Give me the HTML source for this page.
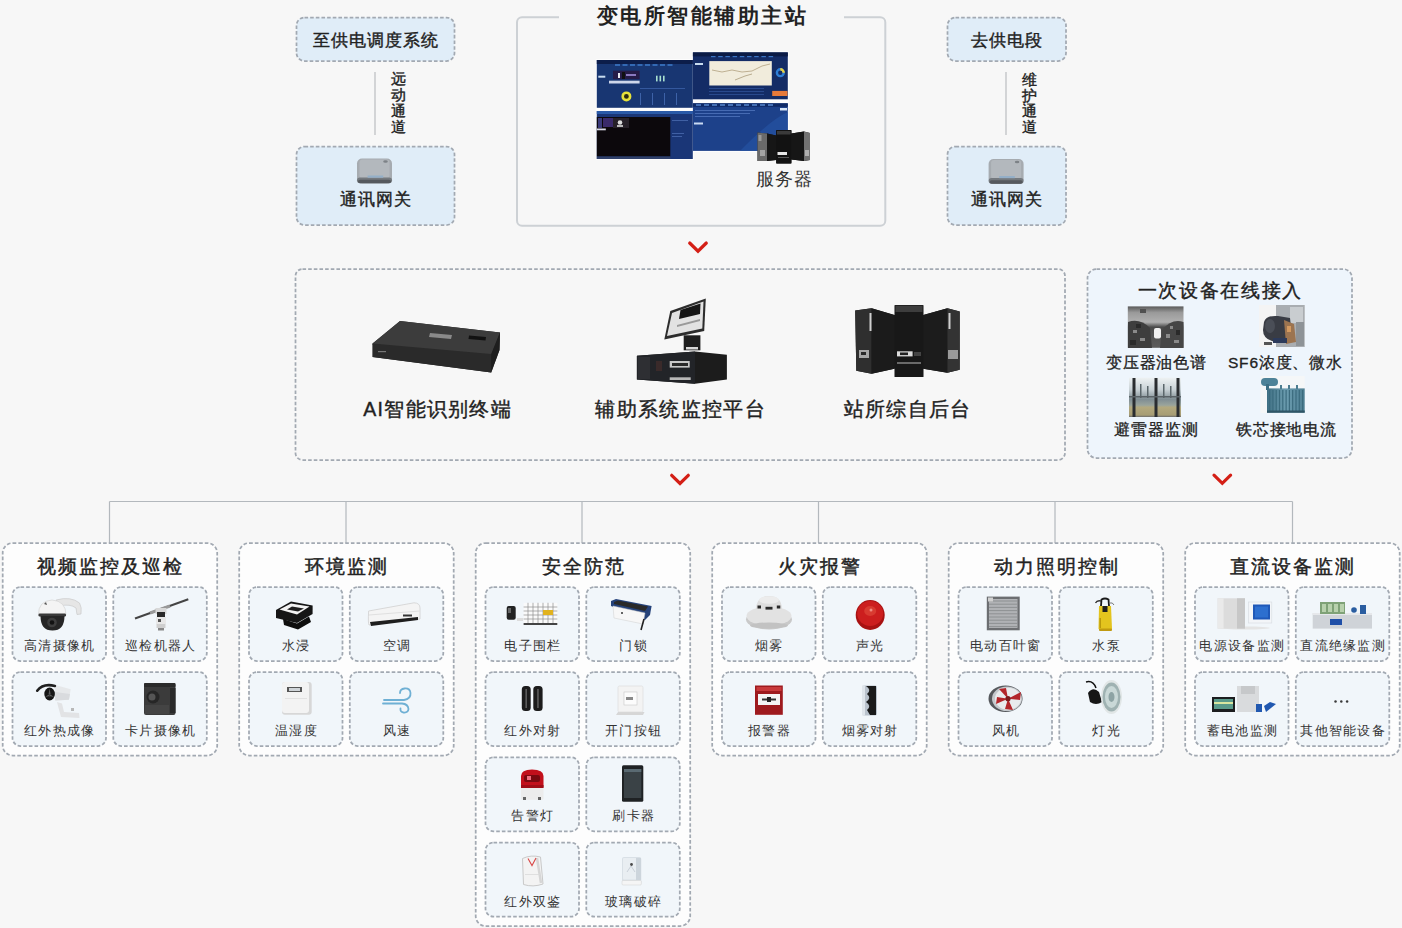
<!DOCTYPE html>
<html><head><meta charset="utf-8"><style>
*{margin:0;padding:0;box-sizing:border-box}
html,body{width:1402px;height:928px;overflow:hidden;background:#f7f7f7}
body{position:relative;font-family:"Liberation Sans",sans-serif;color:#222}
svg.bg{position:absolute;left:0;top:0}
div{position:absolute}
.tb{font-size:17px;font-weight:400;-webkit-text-stroke:0.4px #222;text-align:center;line-height:22px;letter-spacing:1px;padding-left:1px}
.mt{font-size:19.5px;font-weight:400;-webkit-text-stroke:0.4px #222;text-align:center;line-height:26px;letter-spacing:1.3px;padding-left:1.3px}
.st{font-size:15.5px;font-weight:400;-webkit-text-stroke:0.3px #222;text-align:center;line-height:20px;letter-spacing:0.8px;padding-left:0.8px}
.rt{font-size:19px;font-weight:400;-webkit-text-stroke:0.4px #222;text-align:center;line-height:26px;letter-spacing:1.7px;padding-left:1.7px}
.pt{font-size:18.5px;font-weight:400;-webkit-text-stroke:0.45px #222;text-align:center;line-height:26px;letter-spacing:2px;padding-left:2px}
.cl{font-size:13px;font-weight:400;text-align:center;line-height:18px;color:#333;letter-spacing:1.3px;padding-left:1.3px}
.title{font-size:21px;font-weight:700;text-align:center;line-height:28px;letter-spacing:2.5px;padding-left:2.5px}
.vt{font-size:14.8px;font-weight:400;-webkit-text-stroke:0.4px #222;line-height:15.85px}
.srv{font-size:17.5px;font-weight:400;line-height:22px;color:#333;letter-spacing:1px}
</style></head><body>
<svg class="bg" width="1402" height="928" viewBox="0 0 1402 928">
<rect x="296.5" y="17.5" width="158" height="43.5" rx="8" fill="#e0edf8" stroke="#a2a9b2" stroke-width="1.75" stroke-dasharray="3.6 2.05"/>
<line x1="375" y1="72" x2="375" y2="135" stroke="#c9cbcd" stroke-width="1.6"/>
<rect x="296.5" y="146.5" width="158" height="78.5" rx="8" fill="#e0edf8" stroke="#a2a9b2" stroke-width="1.75" stroke-dasharray="3.6 2.05"/>
<rect x="517" y="17.2" width="368.3" height="208.5" rx="5" fill="none" stroke="#cdd1d5" stroke-width="2"/>
<rect x="559" y="10" width="285" height="15" fill="#f7f7f7"/>
<rect x="947.5" y="17.5" width="118.5" height="43.5" rx="8" fill="#e0edf8" stroke="#a2a9b2" stroke-width="1.75" stroke-dasharray="3.6 2.05"/>
<line x1="1006" y1="72" x2="1006" y2="135" stroke="#c9cbcd" stroke-width="1.6"/>
<rect x="947.5" y="146.5" width="118.5" height="78.5" rx="8" fill="#e0edf8" stroke="#a2a9b2" stroke-width="1.75" stroke-dasharray="3.6 2.05"/>
<polyline points="689.7,243.0 698,251.2 706.3,243.0" fill="none" stroke="#d41f16" stroke-width="3.2" stroke-linecap="round" stroke-linejoin="miter"/>
<polyline points="671.7,475.3 680,483.5 688.3,475.3" fill="none" stroke="#d41f16" stroke-width="3.2" stroke-linecap="round" stroke-linejoin="miter"/>
<polyline points="1214.0,475.1 1222.3,483.3 1230.6,475.1" fill="none" stroke="#d41f16" stroke-width="3.2" stroke-linecap="round" stroke-linejoin="miter"/>
<rect x="295.5" y="269" width="769.5" height="191" rx="7" fill="none" stroke="#a2a9b2" stroke-width="1.75" stroke-dasharray="3.6 2.05"/>
<rect x="1087.5" y="269" width="264.5" height="189" rx="9" fill="#eef5fc" stroke="#a2a9b2" stroke-width="1.75" stroke-dasharray="3.6 2.05"/>
<line x1="109.5" y1="501.5" x2="1292.5" y2="501.5" stroke="#b3b8bd" stroke-width="1.2"/>
<line x1="109.5" y1="501.5" x2="109.5" y2="543" stroke="#b3b8bd" stroke-width="1.2"/>
<line x1="346" y1="501.5" x2="346" y2="543" stroke="#b3b8bd" stroke-width="1.2"/>
<line x1="582" y1="501.5" x2="582" y2="543" stroke="#b3b8bd" stroke-width="1.2"/>
<line x1="818.5" y1="501.5" x2="818.5" y2="543" stroke="#b3b8bd" stroke-width="1.2"/>
<line x1="1055" y1="501.5" x2="1055" y2="543" stroke="#b3b8bd" stroke-width="1.2"/>
<line x1="1292.5" y1="501.5" x2="1292.5" y2="543" stroke="#b3b8bd" stroke-width="1.2"/>
<rect x="2.7" y="543" width="214.5" height="212.5" rx="10" fill="#fdfdfd" stroke="#a2a9b2" stroke-width="1.75" stroke-dasharray="3.6 2.05"/>
<rect x="12.5" y="587" width="93.5" height="74" rx="8" fill="#f1f6fa" stroke="#a2a9b2" stroke-width="1.75" stroke-dasharray="3.6 2.05"/>
<rect x="113.3" y="587" width="93.5" height="74" rx="8" fill="#f1f6fa" stroke="#a2a9b2" stroke-width="1.75" stroke-dasharray="3.6 2.05"/>
<rect x="12.5" y="672" width="93.5" height="74" rx="8" fill="#f1f6fa" stroke="#a2a9b2" stroke-width="1.75" stroke-dasharray="3.6 2.05"/>
<rect x="113.3" y="672" width="93.5" height="74" rx="8" fill="#f1f6fa" stroke="#a2a9b2" stroke-width="1.75" stroke-dasharray="3.6 2.05"/>
<rect x="239.2" y="543" width="214.5" height="212.5" rx="10" fill="#fdfdfd" stroke="#a2a9b2" stroke-width="1.75" stroke-dasharray="3.6 2.05"/>
<rect x="249.0" y="587" width="93.5" height="74" rx="8" fill="#f1f6fa" stroke="#a2a9b2" stroke-width="1.75" stroke-dasharray="3.6 2.05"/>
<rect x="349.8" y="587" width="93.5" height="74" rx="8" fill="#f1f6fa" stroke="#a2a9b2" stroke-width="1.75" stroke-dasharray="3.6 2.05"/>
<rect x="249.0" y="672" width="93.5" height="74" rx="8" fill="#f1f6fa" stroke="#a2a9b2" stroke-width="1.75" stroke-dasharray="3.6 2.05"/>
<rect x="349.8" y="672" width="93.5" height="74" rx="8" fill="#f1f6fa" stroke="#a2a9b2" stroke-width="1.75" stroke-dasharray="3.6 2.05"/>
<rect x="475.7" y="543" width="214.5" height="383" rx="10" fill="#fdfdfd" stroke="#a2a9b2" stroke-width="1.75" stroke-dasharray="3.6 2.05"/>
<rect x="485.5" y="587" width="93.5" height="74" rx="8" fill="#f1f6fa" stroke="#a2a9b2" stroke-width="1.75" stroke-dasharray="3.6 2.05"/>
<rect x="586.3" y="587" width="93.5" height="74" rx="8" fill="#f1f6fa" stroke="#a2a9b2" stroke-width="1.75" stroke-dasharray="3.6 2.05"/>
<rect x="485.5" y="672" width="93.5" height="74" rx="8" fill="#f1f6fa" stroke="#a2a9b2" stroke-width="1.75" stroke-dasharray="3.6 2.05"/>
<rect x="586.3" y="672" width="93.5" height="74" rx="8" fill="#f1f6fa" stroke="#a2a9b2" stroke-width="1.75" stroke-dasharray="3.6 2.05"/>
<rect x="485.5" y="757.3" width="93.5" height="74" rx="8" fill="#f1f6fa" stroke="#a2a9b2" stroke-width="1.75" stroke-dasharray="3.6 2.05"/>
<rect x="586.3" y="757.3" width="93.5" height="74" rx="8" fill="#f1f6fa" stroke="#a2a9b2" stroke-width="1.75" stroke-dasharray="3.6 2.05"/>
<rect x="485.5" y="842.6" width="93.5" height="74" rx="8" fill="#f1f6fa" stroke="#a2a9b2" stroke-width="1.75" stroke-dasharray="3.6 2.05"/>
<rect x="586.3" y="842.6" width="93.5" height="74" rx="8" fill="#f1f6fa" stroke="#a2a9b2" stroke-width="1.75" stroke-dasharray="3.6 2.05"/>
<rect x="712.2" y="543" width="214.5" height="212.5" rx="10" fill="#fdfdfd" stroke="#a2a9b2" stroke-width="1.75" stroke-dasharray="3.6 2.05"/>
<rect x="722.0" y="587" width="93.5" height="74" rx="8" fill="#f1f6fa" stroke="#a2a9b2" stroke-width="1.75" stroke-dasharray="3.6 2.05"/>
<rect x="822.8" y="587" width="93.5" height="74" rx="8" fill="#f1f6fa" stroke="#a2a9b2" stroke-width="1.75" stroke-dasharray="3.6 2.05"/>
<rect x="722.0" y="672" width="93.5" height="74" rx="8" fill="#f1f6fa" stroke="#a2a9b2" stroke-width="1.75" stroke-dasharray="3.6 2.05"/>
<rect x="822.8" y="672" width="93.5" height="74" rx="8" fill="#f1f6fa" stroke="#a2a9b2" stroke-width="1.75" stroke-dasharray="3.6 2.05"/>
<rect x="948.7" y="543" width="214.5" height="212.5" rx="10" fill="#fdfdfd" stroke="#a2a9b2" stroke-width="1.75" stroke-dasharray="3.6 2.05"/>
<rect x="958.5" y="587" width="93.5" height="74" rx="8" fill="#f1f6fa" stroke="#a2a9b2" stroke-width="1.75" stroke-dasharray="3.6 2.05"/>
<rect x="1059.3" y="587" width="93.5" height="74" rx="8" fill="#f1f6fa" stroke="#a2a9b2" stroke-width="1.75" stroke-dasharray="3.6 2.05"/>
<rect x="958.5" y="672" width="93.5" height="74" rx="8" fill="#f1f6fa" stroke="#a2a9b2" stroke-width="1.75" stroke-dasharray="3.6 2.05"/>
<rect x="1059.3" y="672" width="93.5" height="74" rx="8" fill="#f1f6fa" stroke="#a2a9b2" stroke-width="1.75" stroke-dasharray="3.6 2.05"/>
<rect x="1185.2" y="543" width="214.5" height="212.5" rx="10" fill="#fdfdfd" stroke="#a2a9b2" stroke-width="1.75" stroke-dasharray="3.6 2.05"/>
<rect x="1195.0" y="587" width="93.5" height="74" rx="8" fill="#f1f6fa" stroke="#a2a9b2" stroke-width="1.75" stroke-dasharray="3.6 2.05"/>
<rect x="1295.8" y="587" width="93.5" height="74" rx="8" fill="#f1f6fa" stroke="#a2a9b2" stroke-width="1.75" stroke-dasharray="3.6 2.05"/>
<rect x="1195.0" y="672" width="93.5" height="74" rx="8" fill="#f1f6fa" stroke="#a2a9b2" stroke-width="1.75" stroke-dasharray="3.6 2.05"/>
<rect x="1295.8" y="672" width="93.5" height="74" rx="8" fill="#f1f6fa" stroke="#a2a9b2" stroke-width="1.75" stroke-dasharray="3.6 2.05"/>
<defs><linearGradient id="gwg" x1="0" y1="0" x2="0" y2="1"><stop offset="0" stop-color="#d6d9dc"/><stop offset="0.6" stop-color="#a4a9ae"/><stop offset="1" stop-color="#7b8085"/></linearGradient></defs>
<g transform="translate(357,158.5)">
<rect x="0" y="0" width="35" height="24.7" rx="5" fill="#a6abb0"/>
<rect x="2.5" y="1" width="30" height="19" rx="3" fill="#b3b8bd"/>
<rect x="0" y="19" width="35" height="5.7" rx="3" fill="#74797e"/>
<rect x="1" y="21.3" width="33" height="3.4" rx="2" fill="#55595e"/>
<rect x="10.6" y="17" width="15.6" height="2.2" fill="#94afc8"/>
<ellipse cx="28.5" cy="3" rx="2.3" ry="1.2" fill="#7d8287"/>
</g>
<g transform="translate(988.6,159)">
<rect x="0" y="0" width="35" height="24.7" rx="5" fill="#a6abb0"/>
<rect x="2.5" y="1" width="30" height="19" rx="3" fill="#b3b8bd"/>
<rect x="0" y="19" width="35" height="5.7" rx="3" fill="#74797e"/>
<rect x="1" y="21.3" width="33" height="3.4" rx="2" fill="#55595e"/>
<rect x="10.6" y="17" width="15.6" height="2.2" fill="#94afc8"/>
<ellipse cx="28.5" cy="3" rx="2.3" ry="1.2" fill="#7d8287"/>
</g>
<g fill="#fdfdfd" stroke="#fdfdfd" stroke-width="2"><rect x="596.8" y="60" width="96" height="99"/><rect x="692.9" y="52.4" width="94.9" height="98.5"/></g>
<rect x="596.8" y="60" width="96" height="47.8" fill="#183672"/>
<rect x="596.8" y="60" width="96" height="4" fill="#0c1d4a"/>
<g fill="#3f7fd0"><rect x="615.0" y="64.3" width="5" height="1.4"/><rect x="622.5" y="64.3" width="5" height="1.4"/><rect x="630.0" y="64.3" width="5" height="1.4"/><rect x="637.5" y="64.3" width="5" height="1.4"/><rect x="645.0" y="64.3" width="5" height="1.4"/><rect x="652.5" y="64.3" width="5" height="1.4"/><rect x="660.0" y="64.3" width="5" height="1.4"/><rect x="667.5" y="64.3" width="5" height="1.4"/></g>
<rect x="613" y="70.7" width="26.6" height="8.5" fill="#261c48"/>
<rect x="618" y="73" width="2" height="5" fill="#e8e8f0"/><rect x="622" y="72" width="3" height="7" fill="#111"/><rect x="626" y="74" width="10" height="2" fill="#8a7ac0"/>
<rect x="609" y="80.7" width="30.6" height="2.8" fill="#cdd6ea"/>
<rect x="598.3" y="75.7" width="7" height="2" fill="#c8dcf0"/>
<rect x="656" y="75.7" width="1.6" height="5.7" fill="#a8e0d0"/><rect x="659.5" y="75.7" width="1.6" height="5.7" fill="#a8e0d0"/><rect x="663" y="75.7" width="1.6" height="5.7" fill="#a8e0d0"/>
<circle cx="626.4" cy="96.4" r="3.7" fill="#2a2a10" stroke="#e6e23a" stroke-width="2.6"/>
<g fill="#3d62a8"><rect x="640" y="93" width="1" height="12"/><rect x="652" y="93" width="1" height="12"/><rect x="664" y="93" width="1" height="12"/><rect x="676" y="93" width="1" height="12"/><rect x="640" y="88" width="45" height="0.8"/></g>
<rect x="692.9" y="52.4" width="94.9" height="46.9" fill="#142c66"/>
<rect x="692.9" y="52.4" width="94.9" height="4" fill="#0b1b45"/>
<g fill="#3a74c4"><rect x="711.0" y="56" width="4.5" height="1.2"/><rect x="718.2" y="56" width="4.5" height="1.2"/><rect x="725.4" y="56" width="4.5" height="1.2"/><rect x="732.6" y="56" width="4.5" height="1.2"/><rect x="739.8" y="56" width="4.5" height="1.2"/><rect x="747.0" y="56" width="4.5" height="1.2"/><rect x="754.2" y="56" width="4.5" height="1.2"/><rect x="761.4" y="56" width="4.5" height="1.2"/><rect x="768.6" y="56" width="4.5" height="1.2"/></g>
<rect x="709.3" y="61.1" width="62.5" height="24.4" fill="#f1ecdc"/>
<path d="M712 70 L722 72 L732 70 L742 72 L752 71 L762 66 L770 64" fill="none" stroke="#b9a98a" stroke-width="0.9"/>
<path d="M735 80 L745 76 L752 74" fill="none" stroke="#a99a7a" stroke-width="0.8"/>
<circle cx="780.3" cy="72.7" r="3.4" fill="none" stroke="#2d7fd8" stroke-width="2.4"/>
<path d="M780.3 69.3 A3.4 3.4 0 0 1 783.7 72.7" fill="none" stroke="#e8d040" stroke-width="2.4"/>
<rect x="772.2" y="90.9" width="15.3" height="5.1" fill="#e77a3a"/>
<g fill="#2f5298"><rect x="709" y="88" width="55" height="0.8"/><rect x="709" y="91" width="55" height="0.8"/><rect x="709" y="94" width="55" height="0.8"/></g>
<rect x="695" y="63" width="8" height="2" fill="#c8dcf0"/>
<rect x="692.9" y="103.3" width="94.9" height="47.6" fill="#1d418a"/>
<rect x="692.9" y="103.3" width="94.9" height="3.5" fill="#0f2a66"/>
<g fill="#5d8fd8"><rect x="696.0" y="104.3" width="5" height="1.4"/><rect x="704.0" y="104.3" width="5" height="1.4"/><rect x="712.0" y="104.3" width="5" height="1.4"/><rect x="720.0" y="104.3" width="5" height="1.4"/><rect x="728.0" y="104.3" width="5" height="1.4"/><rect x="736.0" y="104.3" width="5" height="1.4"/><rect x="744.0" y="104.3" width="5" height="1.4"/><rect x="752.0" y="104.3" width="5" height="1.4"/><rect x="760.0" y="104.3" width="5" height="1.4"/><rect x="768.0" y="104.3" width="5" height="1.4"/></g>
<path d="M740 151 Q770 120 787.8 112 L787.8 151 Z" fill="#2553a3" opacity="0.7"/>
<g fill="#5276bd"><rect x="695" y="110" width="60" height="0.8"/><rect x="695" y="113" width="55" height="0.8"/><rect x="695" y="116" width="45" height="0.8"/></g>
<rect x="780" y="108" width="7" height="2.5" fill="#d8e6f7"/>
<rect x="694" y="122.5" width="9" height="2" fill="#c9daf2"/>
<rect x="596.8" y="111" width="96" height="48" fill="#1a3677"/>
<rect x="596.8" y="111" width="96" height="3" fill="#2a5aa8"/>
<rect x="596.8" y="117" width="73.5" height="39.5" fill="#0c080c"/>
<rect x="598" y="118" width="4" height="10" fill="#3a3a7a"/><rect x="603" y="118" width="10" height="9" fill="#3a2a6a"/><rect x="613" y="118" width="16" height="10" fill="#262028"/>
<circle cx="620" cy="122.5" r="2.3" fill="#dcdcdc"/><rect x="617" y="125" width="6" height="2" fill="#bbb"/>
<rect x="596.8" y="128.5" width="9" height="1.8" fill="#d9d9e6"/>
<rect x="596.8" y="156.5" width="73.5" height="2.5" fill="#30406a"/>
<g fill="#4a6cb0"><rect x="672" y="120" width="16" height="0.8"/><rect x="672" y="133" width="12" height="0.8"/><rect x="672" y="136" width="10" height="0.8"/></g>
<polygon points="757.5,132.5 767,133.5 776.2,135.5 776.2,130 791.4,130 791.4,133.5 804,131.5 810,133 810,160 804,161 791.4,159.5 791.4,163.4 776.2,163.4 776.2,160 767,161 757.5,161" fill="#161616"/>
<polygon points="757.5,132.5 767,133.5 767,161 757.5,161" fill="#6a6a6a"/>
<rect x="758.5" y="135" width="3" height="6" fill="#9a9a9a"/><rect x="760" y="150" width="5" height="6" fill="#a5a5a5"/>
<polygon points="767,133.5 776,135.5 776,160 767,161" fill="#161616"/>
<rect x="776.2" y="130" width="15.2" height="33.4" rx="1" fill="#121212"/>
<rect x="777" y="131" width="13.6" height="3.5" fill="#3a3a3a"/>
<rect x="777.5" y="152" width="9.5" height="3" fill="#e6e6e6"/>
<rect x="778" y="157" width="11" height="1" fill="#555"/>
<polygon points="791.4,133.5 804,131.5 804,161 791.4,159.5" fill="#161616"/>
<polygon points="804,131.5 810,133 810,160 804,161" fill="#727272"/>
<rect x="805" y="150" width="4" height="6" fill="#b0b0b0"/>
<polygon points="372.6,343.4 400,321.1 500,332.5 499.5,350 491.2,372.5 372.6,357" fill="#262626"/>
<polygon points="372.6,343.4 400,321.1 500,332.5 491.2,355 372.6,345" fill="#3c3c3c"/>
<polygon points="372.6,343.4 491.2,354 491.2,372.5 372.6,357" fill="#2a2a2a"/>
<polygon points="491.2,354 500,332.5 499.5,350 491.2,372.5" fill="#1e1e1e"/>
<polygon points="430,333 452,335 451,339 429,337" fill="#8a8a8a"/>
<polygon points="469,335.5 486,337 485.5,340.5 468.5,339" fill="#111"/>
<rect x="378" y="351" width="8" height="1.2" fill="#777"/>
<polygon points="670.3,311 705.8,298.6 704.2,331 664.3,339.6" fill="#2c2c2c"/>
<polygon points="672,313 703.5,301.5 702.3,328.5 667,336" fill="#e2e2e2"/>
<polygon points="680.5,310 700.5,303.5 700,314 679,319" fill="#151515"/>
<polygon points="677,325 700,319 700,321 677,327" fill="#9a9a9a"/>
<rect x="683.7" y="335.3" width="16.7" height="15" fill="#1e1e1e"/>
<rect x="686" y="347" width="12" height="2.5" fill="#d8d8d8"/>
<polygon points="636.9,355.7 695,351.4 726.9,354.7 726.9,379.5 695,383.8 636.9,379.5" fill="#1c1c1c"/>
<polygon points="636.9,355.7 695,351.4 695,383.8 636.9,379.5" fill="#222428"/>
<rect x="638" y="357" width="12" height="22" fill="#2e2f33"/>
<rect x="669.7" y="361" width="20" height="6.6" fill="#c8c8c8"/>
<rect x="672" y="363" width="16" height="3" fill="#2a2a2a"/>
<rect x="669.7" y="377.3" width="21" height="2.7" fill="#b8b8b8"/>
<rect x="656" y="361" width="6" height="10" fill="#3a2a2a"/>
<polygon points="855.2,310.4 871.6,308.3 894.7,315 894.7,305.2 923.3,305.2 923.3,315 947.4,308.3 959.7,311.4 959.7,369.7 947.4,372.8 923.3,368.7 923.3,376.9 894.7,376.9 894.7,368.7 871.6,373.8 856.3,370.8" fill="#1b1b1b"/>
<polygon points="855.2,310.4 871.6,308.3 871.6,373.8 856.3,370.8" fill="#2f2f2f"/>
<polygon points="871.6,308.3 894,315 894,368.7 871.6,373.8" fill="#1b1b1b"/>
<rect x="869.5" y="313" width="2" height="18" fill="#cfcfcf"/>
<rect x="859" y="350" width="10" height="8" fill="#a8a8a8"/>
<rect x="861" y="352" width="5" height="3" fill="#2a2a2a"/>
<rect x="894.7" y="305.2" width="28.6" height="71.7" fill="#181818"/>
<rect x="895.5" y="306" width="27" height="6" fill="#3d3d3d"/>
<rect x="897" y="351.3" width="15.6" height="5.1" fill="#dcdcdc"/>
<rect x="900" y="352.5" width="8" height="2.6" fill="#222"/>
<rect x="914" y="352" width="7" height="4" fill="#444"/>
<rect x="897" y="362" width="24" height="2" fill="#6a6a6a"/>
<polygon points="923.3,315 947.4,308.3 947.4,372.8 923.3,368.7" fill="#1c1c1c"/>
<polygon points="947.4,308.3 959.7,311.4 959.7,369.7 947.4,372.8" fill="#333"/>
<rect x="948.5" y="313" width="2" height="16" fill="#d0d0d0"/>
<rect x="948" y="350" width="10" height="9" fill="#9a9a9a"/>
<defs>
<linearGradient id="p1g" x1="0" y1="0" x2="0" y2="1"><stop offset="0" stop-color="#5a5a5a"/><stop offset="0.15" stop-color="#9a9a9a"/><stop offset="0.38" stop-color="#b0b0b0"/><stop offset="0.5" stop-color="#4a4a4a"/><stop offset="1" stop-color="#5c5c5c"/></linearGradient>
<linearGradient id="p3g" x1="0" y1="0" x2="0" y2="1"><stop offset="0" stop-color="#eef2f3"/><stop offset="0.3" stop-color="#c9d2d6"/><stop offset="0.55" stop-color="#7f8d93"/><stop offset="0.7" stop-color="#9aa49c"/><stop offset="0.75" stop-color="#b3a97e"/><stop offset="0.95" stop-color="#a79d74"/><stop offset="1" stop-color="#6e6e6e"/></linearGradient>
<linearGradient id="p4g" x1="0" y1="0" x2="1" y2="0"><stop offset="0" stop-color="#3f6f83"/><stop offset="0.5" stop-color="#6c9db0"/><stop offset="1" stop-color="#4e7f93"/></linearGradient>
</defs>
<rect x="1127.8" y="306.4" width="55.7" height="41.4" fill="url(#p1g)"/>
<path d="M1128 322 Q1140 318 1150 328 L1152 348 L1128 348 Z" fill="#3e3e3e"/>
<path d="M1162 330 Q1172 318 1183.5 322 L1183.5 348 L1160 348 Z" fill="#464646"/>
<g fill="#8a8a8a"><rect x="1133" y="330" width="4" height="3"/><rect x="1140" y="338" width="5" height="3"/><rect x="1166" y="334" width="4" height="4"/><rect x="1174" y="340" width="5" height="3"/><rect x="1170" y="326" width="3" height="3"/></g>
<g fill="#2a2a2a"><rect x="1136" y="324" width="5" height="4"/><rect x="1176" y="330" width="4" height="5"/><rect x="1130" y="340" width="6" height="5"/></g>
<rect x="1140" y="309" width="6" height="4" fill="#505050"/>
<rect x="1154" y="328" width="7" height="10.5" rx="2" fill="#f0f0f0"/>
<rect x="1259" y="305" width="45.7" height="42" fill="#f4f4f4"/>
<rect x="1276" y="305" width="28.7" height="42" fill="#a9adb1"/>
<rect x="1290" y="307" width="13" height="16" fill="#c9cdd0"/>
<rect x="1296" y="322" width="8" height="24" fill="#8e9397"/>
<path d="M1264 322 Q1266 315 1278 316 L1290 318 L1292 336 L1276 342 Q1263 340 1263 330 Z" fill="#393c44"/>
<ellipse cx="1270" cy="326" rx="5" ry="7" fill="#4a4e57"/>
<path d="M1284 320 L1294 324 L1296 342 L1286 344 Z" fill="#9c7450"/>
<rect x="1287" y="326" width="4" height="6" fill="#d49a60"/>
<rect x="1273" y="338" width="14" height="5" fill="#2c3a5a"/>
<rect x="1264" y="342" width="8" height="3" fill="#555"/>
<rect x="1129" y="377.7" width="52" height="39.3" fill="url(#p3g)"/>
<g fill="#2a2d30"><rect x="1132.5" y="378" width="3" height="39"/><rect x="1154.5" y="378" width="3" height="39"/><rect x="1176.5" y="378" width="3" height="39"/></g>
<g fill="#5b666b"><rect x="1140" y="384" width="1.5" height="14"/><rect x="1147" y="386" width="1.5" height="12"/><rect x="1163" y="384" width="1.5" height="14"/><rect x="1170" y="386" width="1.5" height="12"/></g>
<rect x="1129" y="396" width="52" height="1.5" fill="#5a6267"/>
<rect x="1260.5" y="376" width="44.2" height="37" fill="#f5f7f8"/>
<rect x="1261" y="378" width="17" height="8" rx="4" fill="#4d8298"/>
<rect x="1266" y="384" width="3" height="6" fill="#3d6f84"/>
<rect x="1267" y="388.4" width="37.7" height="24.3" fill="url(#p4g)"/>
<g fill="#3b6b7e"><rect x="1269.0" y="390" width="1.2" height="21"/><rect x="1272.3" y="390" width="1.2" height="21"/><rect x="1275.6" y="390" width="1.2" height="21"/><rect x="1278.9" y="390" width="1.2" height="21"/><rect x="1282.2" y="390" width="1.2" height="21"/><rect x="1285.5" y="390" width="1.2" height="21"/><rect x="1288.8" y="390" width="1.2" height="21"/><rect x="1292.1" y="390" width="1.2" height="21"/><rect x="1295.4" y="390" width="1.2" height="21"/><rect x="1298.7" y="390" width="1.2" height="21"/><rect x="1302.0" y="390" width="1.2" height="21"/></g>
<rect x="1280" y="385" width="2" height="4" fill="#4d7d90"/><rect x="1288" y="385" width="2" height="4" fill="#4d7d90"/><rect x="1296" y="385" width="2" height="4" fill="#4d7d90"/>
<rect x="1267" y="410.5" width="37.7" height="2.2" fill="#2f5566"/>
<path d="M56 600 Q71 596 79.5 603 Q82 607 81 614 L77 614.5 L76 608 Q70 603.5 60 606 Z" fill="#e6e6e6" stroke="#c4c4c4" stroke-width="0.6"/>
<path d="M38.5 615 Q38 601 52 600 Q66 601 66 615 Z" fill="#f4f4f4" stroke="#cfcfcf" stroke-width="0.6"/>
<path d="M44 604 L46 602 L47 605 Z" fill="#555"/>
<rect x="38.5" y="613.5" width="27.5" height="3" rx="1.2" fill="#3a3a3a"/>
<path d="M40.5 616 Q40.5 630.6 52.5 630.6 Q64.5 630.6 64.5 616 Z" fill="#262626"/>
<circle cx="52" cy="622.5" r="4.8" fill="#3e3e3e"/>
<circle cx="52" cy="622.5" r="2.3" fill="#121212"/>
<line x1="135" y1="618.5" x2="188.3" y2="599.3" stroke="#444" stroke-width="2"/>
<line x1="150" y1="613" x2="170" y2="606" stroke="#999" stroke-width="3"/>
<rect x="155.5" y="608" width="11" height="6" fill="#d8d8d8"/>
<rect x="157" y="612" width="8" height="5" fill="#2a2a2a"/>
<rect x="156" y="617" width="10" height="7" fill="#e8e8e8"/>
<rect x="158" y="619" width="3" height="3" fill="#555"/>
<rect x="156.5" y="624" width="9" height="4" fill="#cfcfcf"/>
<rect x="158" y="628" width="6" height="2.5" fill="#888"/>
<path d="M57 702 L62 703.5 L64 712 L79 713 L79.5 718 L61 717 L58 706 Z" fill="#e2e3e5"/>
<rect x="71" y="708" width="3" height="3" fill="#b8b8b8"/>
<path d="M54.4 684.8 L70.7 689.3 L68.9 699.7 L55.3 700.6 Z" fill="#e6e8ea"/>
<path d="M55 692 L70 694 L68.9 699.7 L55.3 700.6 Z" fill="#d9dbde"/>
<path d="M37.2 690.7 Q43 683 54.9 685.9" fill="none" stroke="#202020" stroke-width="2.6" stroke-linecap="round"/>
<ellipse cx="49.6" cy="694" rx="5.3" ry="6.4" fill="#161616"/>
<path d="M49.6 688.5 L50.6 694 L48.6 694 Z M45 697 L49.6 694 L50 696 Z M54 697 L49.6 694 L49.5 696 Z" fill="#5a5a5a"/>
<rect x="144" y="683" width="31.5" height="32" rx="2" fill="#3b3b3b"/>
<rect x="144" y="683" width="31.5" height="4" rx="1" fill="#2b2b2b"/>
<rect x="170" y="688" width="5.5" height="25" fill="#2a2a2a"/>
<circle cx="153" cy="697" r="6.5" fill="#262626"/>
<circle cx="152" cy="697" r="3.5" fill="#555"/>
<rect x="145" y="705" width="24" height="9" fill="#444"/>
<polygon points="276,610 291,601.5 312.6,605.5 312.6,614 297,623 276,618" fill="#161616"/>
<polygon points="279.5,609.5 291,603.5 309.5,606.5 297,614.5" fill="#f3f3f3"/>
<polygon points="287,609.5 292,606.5 304,608.5 298,611.5" fill="#1e1e1e"/>
<polygon points="283,619 297,623.5 309,616.5 311,622 298,629.5 284,625" fill="#0e0e0e"/>
<path d="M368.6 611 L414 602.8 Q420 603 420 608 L420 619 L369 625 Q368 624 368.6 611 Z" fill="#f4f4f4" stroke="#d0d0d0" stroke-width="0.8"/>
<path d="M369 615 L420 611" stroke="#e0e0e0" stroke-width="1"/>
<polygon points="370,622 418,617 418,620 371,626" fill="#1e1e1e"/>
<rect x="403" y="614.5" width="9" height="2" fill="#333"/>
<rect x="282" y="682" width="29.7" height="32.8" rx="3" fill="#d7d7d7"/>
<rect x="282" y="682" width="27" height="31" rx="3" fill="#f3f3f3"/>
<rect x="287" y="687" width="15" height="5" fill="#555"/>
<rect x="289" y="688" width="11" height="3" fill="#cfd4d8"/>
<rect x="285" y="698" width="22" height="1" fill="#e2e2e2"/>
<g fill="none" stroke="#6fb0d4" stroke-width="1.8" stroke-linecap="round">
<path d="M384 700 L404 700 Q411 699 410.5 693 Q410 688 404.5 688.5 Q400 689 400 693"/>
<path d="M383 703.5 L402 703.5 Q408 704 408.5 709 Q408 713 403.5 712.5 Q400 712 400.5 708.5"/>
</g>
<rect x="506.7" y="606" width="9" height="13.7" rx="2" fill="#222"/>
<rect x="508" y="608" width="3" height="5" fill="#666"/>
<rect x="517" y="618" width="6" height="3" fill="#ddd"/>
<rect x="523.6" y="602.8" width="33.7" height="22.2" fill="#fafafa"/>
<g stroke="#8d8d8d" stroke-width="0.7">
<line x1="523.6" y1="607" x2="557.3" y2="607"/><line x1="523.6" y1="611" x2="557.3" y2="611"/><line x1="523.6" y1="615" x2="557.3" y2="615"/><line x1="523.6" y1="619" x2="557.3" y2="619"/>
<line x1="528" y1="602.8" x2="528" y2="625"/><line x1="533" y1="602.8" x2="533" y2="625"/><line x1="538" y1="602.8" x2="538" y2="625"/><line x1="543" y1="602.8" x2="543" y2="625"/><line x1="548" y1="602.8" x2="548" y2="625"/><line x1="553" y1="602.8" x2="553" y2="625"/>
</g>
<rect x="523.6" y="623" width="33.7" height="2" fill="#444"/>
<rect x="543" y="610" width="10" height="5" fill="#e1b21e"/>
<polygon points="611,601 616,599 651.6,606 650,615 645,620 611,606" fill="#25427a"/>
<polygon points="614,602 618,600.5 648,606.5 645,611 614,604" fill="#2a2a2a"/>
<polygon points="613,606 645,613 643,624 614,618" fill="#f7f7f7" stroke="#cfcfcf" stroke-width="0.5"/>
<circle cx="622" cy="613" r="1" fill="#333"/>
<line x1="644" y1="619" x2="641" y2="630" stroke="#222" stroke-width="1.6"/>
<rect x="521.8" y="686" width="8.9" height="25" rx="3.5" fill="#1c1c1c"/>
<rect x="533.3" y="686" width="9.3" height="25" rx="3.5" fill="#1c1c1c"/>
<rect x="525.5" y="689" width="1.3" height="19" fill="#6a6a6a"/>
<rect x="537.3" y="689" width="1.3" height="19" fill="#6a6a6a"/>
<polygon points="618,712 644.5,712 643,715 616,715" fill="#d6d6d6"/>
<rect x="618" y="686" width="25" height="26" rx="1.5" fill="#f3f3f3" stroke="#dadada" stroke-width="0.6"/>
<rect x="624" y="692" width="13" height="13" fill="#fcfcfc" stroke="#c8c8c8" stroke-width="0.6"/>
<rect x="626" y="697" width="7" height="3" fill="#8a8a8a"/>
<rect x="521" y="787" width="22.5" height="12.8" rx="1.5" fill="#ececec"/>
<rect x="523" y="797" width="3" height="3" fill="#666"/><rect x="538" y="797" width="3" height="3" fill="#666"/>
<path d="M521 787.6 L521 776 Q521 769.4 532 769.4 Q543.5 769.4 543.5 776 L543.5 787.6 Z" fill="#c2101b"/>
<rect x="524" y="775" width="16" height="7" rx="2" fill="#7a0a10"/>
<rect x="527" y="776" width="4" height="4" fill="#f07080"/>
<rect x="521" y="785" width="22.5" height="3" fill="#a00d16"/>
<rect x="622" y="765.3" width="21.3" height="36.5" rx="1.5" fill="#1f2224"/>
<rect x="624" y="769" width="17.3" height="29" fill="#3a4246"/>
<rect x="624" y="769" width="17.3" height="3" fill="#5a6a72"/>
<path d="M522.5 858.5 Q531 854.5 540.5 857 L543 884 Q533 887.5 523.5 884.5 Z" fill="#f3f3f3" stroke="#c9c9c9" stroke-width="1"/>
<path d="M537 858 L541 883" stroke="#d6d6d6" stroke-width="2.5"/>
<path d="M528 858.5 L532 865.5 L536 858" fill="none" stroke="#d84848" stroke-width="1.1"/>
<rect x="525" y="874" width="16" height="0.8" fill="#dadada"/>
<rect x="622" y="857" width="19.3" height="28" rx="2" fill="#d9e0e6"/>
<rect x="623" y="858" width="15.5" height="21.5" rx="1" fill="#e9eef2"/>
<rect x="636" y="858" width="5" height="22" fill="#cdd5dc"/>
<circle cx="631.5" cy="864.5" r="1.4" fill="#4a4a4a"/>
<path d="M627 872 L631 866 L635 872" fill="none" stroke="#c0c8d0" stroke-width="0.8"/>
<rect x="622" y="880.5" width="19.3" height="4.5" rx="1" fill="#f5f5f5" stroke="#d0d0d0" stroke-width="0.5"/>
<ellipse cx="769" cy="619.5" rx="23" ry="10" fill="#c9c9c9"/>
<ellipse cx="769" cy="616" rx="22.5" ry="9.5" fill="#e2e2e2"/>
<path d="M756 609 Q756.5 596 769 596 Q781.5 596 782 609 Z" fill="#dedede"/>
<ellipse cx="769" cy="600" rx="10" ry="3.8" fill="#ececec"/>
<rect x="757.5" y="605.5" width="3.5" height="3" fill="#2a2a2a"/><rect x="765.5" y="606.8" width="7" height="2.8" fill="#2a2a2a"/><rect x="776.8" y="605.5" width="3.5" height="3" fill="#2a2a2a"/>
<ellipse cx="769" cy="625.5" rx="19" ry="3" fill="#c2c2c2"/>
<ellipse cx="870.2" cy="615" rx="14.5" ry="15" fill="#a81212"/>
<ellipse cx="870.2" cy="613.5" rx="13" ry="12.5" fill="#cc1e1e"/>
<ellipse cx="870.2" cy="611" rx="6" ry="5" fill="#d83a30"/>
<circle cx="871" cy="610" r="1.5" fill="#f08a80"/>
<rect x="755" y="685.5" width="27.8" height="29.3" fill="#9e1a1e"/>
<rect x="756.5" y="687" width="25" height="4" fill="#c8393b"/>
<rect x="758" y="694" width="22" height="11" fill="#f4f4f4"/>
<rect x="762" y="698.5" width="14" height="2" fill="#333"/>
<rect x="767" y="697" width="4" height="5" fill="#222"/>
<rect x="862" y="685.5" width="15" height="30" rx="2" fill="#b9c2cc"/>
<path d="M866 686 Q872 690 867 694 Q872 698 866 702 Q872 706 867 710 L870 715 L876 715 L876 686 Z" fill="#1a1a1a"/>
<rect x="862" y="685.5" width="3" height="30" fill="#dfe5eb"/>
<rect x="986.8" y="596.6" width="32.9" height="33.7" fill="#6c6e71"/>
<rect x="989" y="599" width="28.5" height="29" fill="#b0b2b5"/>
<g stroke="#8a8c8f" stroke-width="0.9"><line x1="989" y1="601.0" x2="1017.5" y2="601.0"/><line x1="989" y1="604.2" x2="1017.5" y2="604.2"/><line x1="989" y1="607.4" x2="1017.5" y2="607.4"/><line x1="989" y1="610.6" x2="1017.5" y2="610.6"/><line x1="989" y1="613.8" x2="1017.5" y2="613.8"/><line x1="989" y1="617.0" x2="1017.5" y2="617.0"/><line x1="989" y1="620.2" x2="1017.5" y2="620.2"/><line x1="989" y1="623.4" x2="1017.5" y2="623.4"/><line x1="989" y1="626.6" x2="1017.5" y2="626.6"/></g>
<rect x="988" y="597.5" width="5" height="4" fill="#d0d0d0"/>
<path d="M1101 606 L1101.5 599.5 Q1105 597.5 1108.5 599.5 L1109 606" fill="none" stroke="#1a1a1a" stroke-width="1.8"/>
<path d="M1101 601 Q1097 600 1095.5 603" fill="none" stroke="#333" stroke-width="1.3"/>
<path d="M1109 603 Q1113 602 1114 605" fill="none" stroke="#777" stroke-width="1"/>
<path d="M1099 606 L1111 606 L1112 629 Q1105.5 632 1098.5 629 Z" fill="#e3c41e"/>
<rect x="1102.5" y="606" width="5" height="6" fill="#1e1e1e"/>
<rect x="1099.5" y="618" width="1.5" height="10" fill="#b8980c"/>
<rect x="1099" y="628.5" width="13" height="2.5" rx="1" fill="#c09a10"/>
<ellipse cx="1005.5" cy="698.7" rx="17" ry="13.3" fill="#55585c"/>
<ellipse cx="1007" cy="698.7" rx="15" ry="12.3" fill="#c4c8cc"/>
<ellipse cx="1008" cy="698.7" rx="13" ry="11" fill="#e9ebed"/>
<path d="M1008 698.7 L999 689 L1006 688 Z M1008 698.7 L1021 692 L1020 700 Z M1008 698.7 L1013 710 L1005 709 Z M1008 698.7 L996 704 L997 697 Z" fill="#b3262b"/>
<circle cx="1008" cy="698.7" r="2.6" fill="#7a1a1c"/>
<path d="M1086 682 Q1093 680 1096 688" fill="none" stroke="#111" stroke-width="1.5"/>
<path d="M1088 693 Q1093 686 1099 692 L1102 702 Q1096 706 1090 702 Z" fill="#161616"/>
<ellipse cx="1111.5" cy="697" rx="10.5" ry="17" fill="#e1e6e6"/>
<ellipse cx="1111.5" cy="697" rx="9" ry="14.5" fill="#9fb2b2"/>
<ellipse cx="1111.5" cy="697" rx="6.5" ry="11" fill="#c9d8d7"/>
<ellipse cx="1111.5" cy="697" rx="3" ry="5" fill="#8da3a4"/>
<ellipse cx="1245" cy="628" rx="25" ry="1.5" fill="#e4e4e4"/>
<rect x="1217.6" y="598.3" width="27.4" height="30.3" fill="#dcdcdc"/>
<rect x="1217.6" y="598.3" width="6" height="30.3" fill="#eaeaea"/>
<rect x="1237" y="598.3" width="8" height="30.3" fill="#c7c7c7"/>
<rect x="1248.7" y="602" width="23.1" height="21" fill="#f3f5f8" stroke="#d6dbe0" stroke-width="0.6"/>
<rect x="1253" y="604.5" width="17" height="15" fill="#1f58b8"/>
<rect x="1255" y="606.5" width="13" height="11" fill="#2d6fcf"/>
<rect x="1312.7" y="613" width="59.3" height="15.6" fill="#cfd3d8"/>
<rect x="1312.7" y="613" width="59.3" height="2" fill="#e6e8eb"/>
<rect x="1320" y="602" width="25" height="12" fill="#7fa277"/>
<rect x="1322" y="604" width="4" height="8" fill="#b8d1ad"/><rect x="1328" y="604" width="4" height="8" fill="#b8d1ad"/><rect x="1334" y="604" width="4" height="8" fill="#b8d1ad"/><rect x="1340" y="604" width="4" height="8" fill="#b8d1ad"/>
<circle cx="1354" cy="610" r="2.8" fill="#2a5da0"/>
<rect x="1360" y="605" width="6" height="9" fill="#2a5da0"/>
<rect x="1330" y="619" width="12" height="6" fill="#1f4fa8"/>
<rect x="1237" y="686" width="22" height="26" fill="#d9dbdd"/>
<rect x="1241" y="686" width="14" height="8" fill="#c6c8ca"/>
<rect x="1212" y="697" width="23" height="15" fill="#1c1d1f"/>
<rect x="1214" y="699" width="19" height="10" fill="#5a9a8a"/>
<rect x="1214" y="702" width="19" height="2" fill="#d9e6a0"/>
<path d="M1256 704 L1262 704 L1262 712 L1256 712 Z M1264 706 L1270 702 L1276 704 L1271 708 L1266 712 Z" fill="#2158b0"/>
<g fill="#3a3a3a"><circle cx="1335.5" cy="701.5" r="1.25"/><circle cx="1341.3" cy="701.5" r="1.25"/><circle cx="1347.1" cy="701.5" r="1.25"/></g>
</svg>
<div class="pt" style="left:2.7px;top:554px;width:214.5px">视频监控及巡检</div>
<div class="cl" style="left:12.5px;top:637px;width:93.5px">高清摄像机</div>
<div class="cl" style="left:113.3px;top:637px;width:93.5px">巡检机器人</div>
<div class="cl" style="left:12.5px;top:722px;width:93.5px">红外热成像</div>
<div class="cl" style="left:113.3px;top:722px;width:93.5px">卡片摄像机</div>
<div class="pt" style="left:239.2px;top:554px;width:214.5px">环境监测</div>
<div class="cl" style="left:249.0px;top:637px;width:93.5px">水浸</div>
<div class="cl" style="left:349.8px;top:637px;width:93.5px">空调</div>
<div class="cl" style="left:249.0px;top:722px;width:93.5px">温湿度</div>
<div class="cl" style="left:349.8px;top:722px;width:93.5px">风速</div>
<div class="pt" style="left:475.7px;top:554px;width:214.5px">安全防范</div>
<div class="cl" style="left:485.5px;top:637px;width:93.5px">电子围栏</div>
<div class="cl" style="left:586.3px;top:637px;width:93.5px">门锁</div>
<div class="cl" style="left:485.5px;top:722px;width:93.5px">红外对射</div>
<div class="cl" style="left:586.3px;top:722px;width:93.5px">开门按钮</div>
<div class="cl" style="left:485.5px;top:807.3px;width:93.5px">告警灯</div>
<div class="cl" style="left:586.3px;top:807.3px;width:93.5px">刷卡器</div>
<div class="cl" style="left:485.5px;top:892.6px;width:93.5px">红外双鉴</div>
<div class="cl" style="left:586.3px;top:892.6px;width:93.5px">玻璃破碎</div>
<div class="pt" style="left:712.2px;top:554px;width:214.5px">火灾报警</div>
<div class="cl" style="left:722.0px;top:637px;width:93.5px">烟雾</div>
<div class="cl" style="left:822.8px;top:637px;width:93.5px">声光</div>
<div class="cl" style="left:722.0px;top:722px;width:93.5px">报警器</div>
<div class="cl" style="left:822.8px;top:722px;width:93.5px">烟雾对射</div>
<div class="pt" style="left:948.7px;top:554px;width:214.5px">动力照明控制</div>
<div class="cl" style="left:958.5px;top:637px;width:93.5px">电动百叶窗</div>
<div class="cl" style="left:1059.3px;top:637px;width:93.5px">水泵</div>
<div class="cl" style="left:958.5px;top:722px;width:93.5px">风机</div>
<div class="cl" style="left:1059.3px;top:722px;width:93.5px">灯光</div>
<div class="pt" style="left:1185.2px;top:554px;width:214.5px">直流设备监测</div>
<div class="cl" style="left:1195.0px;top:637px;width:93.5px">电源设备监测</div>
<div class="cl" style="left:1295.8px;top:637px;width:93.5px">直流绝缘监测</div>
<div class="cl" style="left:1195.0px;top:722px;width:93.5px">蓄电池监测</div>
<div class="cl" style="left:1295.8px;top:722px;width:93.5px">其他智能设备</div>
<div class="tb" style="left:296px;top:29.5px;width:159px">至供电调度系统</div>
<div class="tb" style="left:296px;top:189px;width:159px">通讯网关</div>
<div class="tb" style="left:947px;top:29.5px;width:119px">去供电段</div>
<div class="tb" style="left:947px;top:189px;width:119px">通讯网关</div>
<div class="mt" style="left:337px;top:396px;width:200px">AI智能识别终端</div>
<div class="mt" style="left:580px;top:396px;width:200px">辅助系统监控平台</div>
<div class="mt" style="left:807px;top:396px;width:200px">站所综自后台</div>
<div class="rt" style="left:1087px;top:278px;width:265px">一次设备在线接入</div>
<div class="st" style="left:1096px;top:353px;width:120px">变压器油色谱</div>
<div class="st" style="left:1225px;top:353px;width:120px">SF6浓度、微水</div>
<div class="st" style="left:1096px;top:420px;width:120px">避雷器监测</div>
<div class="st" style="left:1226px;top:420px;width:120px">铁芯接地电流</div>
<div class="title" style="left:501px;top:2px;width:400px">变电所智能辅助主站</div>
<div class="vt" style="left:390.8px;top:72.2px">远<br>动<br>通<br>道</div>
<div class="vt" style="left:1021.8px;top:72.8px">维<br>护<br>通<br>道</div>
<div class="srv" style="left:756px;top:168px">服务器</div>
</body></html>
